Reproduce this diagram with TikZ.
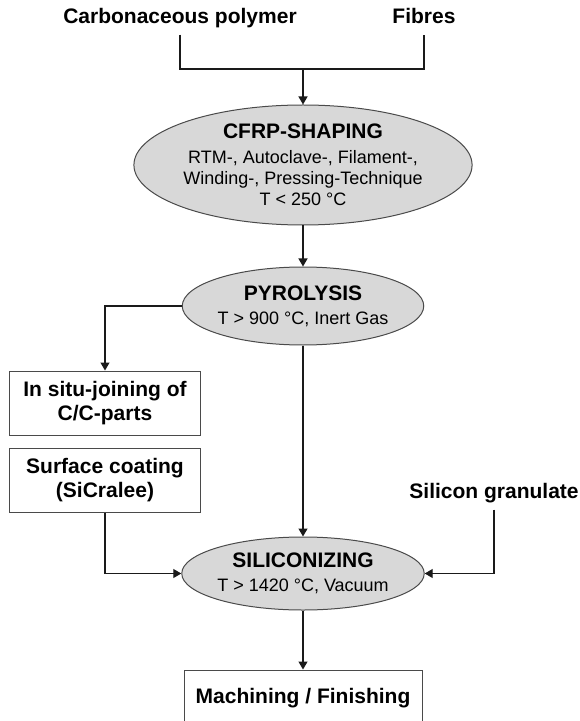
\documentclass[tikz,border=0pt]{standalone}
\usepackage{fontspec}
\setmainfont{Liberation Sans}
\usetikzlibrary{arrows.meta,positioning,shapes.geometric,calc}
\definecolor{ink}     {HTML}{1A1A1A}
\definecolor{ovalgray}{HTML}{D8D8D8}
\definecolor{edgegray}{HTML}{4A4A4A}
\tikzset{
  inputlabel/.style={font=\fontsize{10.5}{12}\selectfont\bfseries,
                     text height=8pt, text depth=2.2pt, inner sep=3pt},
  stepoval/.style  ={ellipse, draw=edgegray, fill=ovalgray, line width=0.5pt,
                     inner sep=0pt, align=center, font=\fontsize{9}{10.5}\selectfont},
  stepbox/.style   ={draw=edgegray, line width=0.5pt, inner sep=0pt,
                     align=center, font=\fontsize{10.5}{12}\selectfont\bfseries},
  flowline/.style  ={draw=ink, line width=0.6pt},
  flowarr/.style   ={flowline, -{Triangle[length=4pt,width=4.5pt]}},
}
\newcommand{\steptitle}[1]{\textbf{\fontsize{10.5}{12}\selectfont #1}}

\begin{document}
\begin{tikzpicture}[x=0.5pt,y=-0.5pt]
        \useasboundingbox (0,0) rectangle (579,721);
        \clip (0,0) rectangle (579,721);

        % raw materials
        \node[inputlabel] (carb) at (180,18) {Carbonaceous polymer};
        \node[inputlabel] (fib)  at (424,18) {Fibres};
        \coordinate (join) at (303,69);

        % process steps
        \node[stepoval,minimum width=138.5pt,minimum height=60pt] (cfrp) at (303,165)
          {\steptitle{CFRP-SHAPING}\\[2pt] RTM-, Autoclave-, Filament-,\\ Winding-, Pressing-Technique\\ T < 250 °C};
        \node[stepoval,minimum width=115.5pt,minimum height=39pt] (pyro) at (303,306)
          {\steptitle{PYROLYSIS}\\[1.5pt] T > 900 °C, Inert Gas};
        \node[stepoval,minimum width=115.5pt,minimum height=36.5pt] (sili) at (303,573.5)
          {\steptitle{SILICONIZING}\\[1.5pt] T > 1420 °C, Vacuum};

        % side branches
        \node[stepbox,minimum width=95.5pt,minimum height=32pt] (insitu) at (105,403)
          {In situ-joining of\\ C/C-parts};
        \node[stepbox,minimum width=95.5pt,minimum height=32pt] (coat) at (105,480)
          {Surface coating\\ (SiCralee)};
        \node[inputlabel] (silgran) at (494,493) {Silicon granulate};

        % final step
        \node[stepbox,minimum width=119pt,minimum height=28pt] (mach) at (303,698)
          {Machining / Finishing};

        % connectors
        \draw[flowline] (carb.south) |- (join) -| (fib.south);
        \draw[flowarr] (join) -- (cfrp.north);
        \draw[flowarr] (cfrp.south) -- (pyro.north);
        \draw[flowarr] (pyro.west) -| (insitu.north);
        \draw[flowarr] (pyro.south) -- (sili.north);
        \draw[flowarr] (coat.south) |- (sili.west);
        \draw[flowarr] (silgran.south) |- (sili.east);
        \draw[flowarr] (sili.south) -- (mach.north);
      \end{tikzpicture}
\end{document}
